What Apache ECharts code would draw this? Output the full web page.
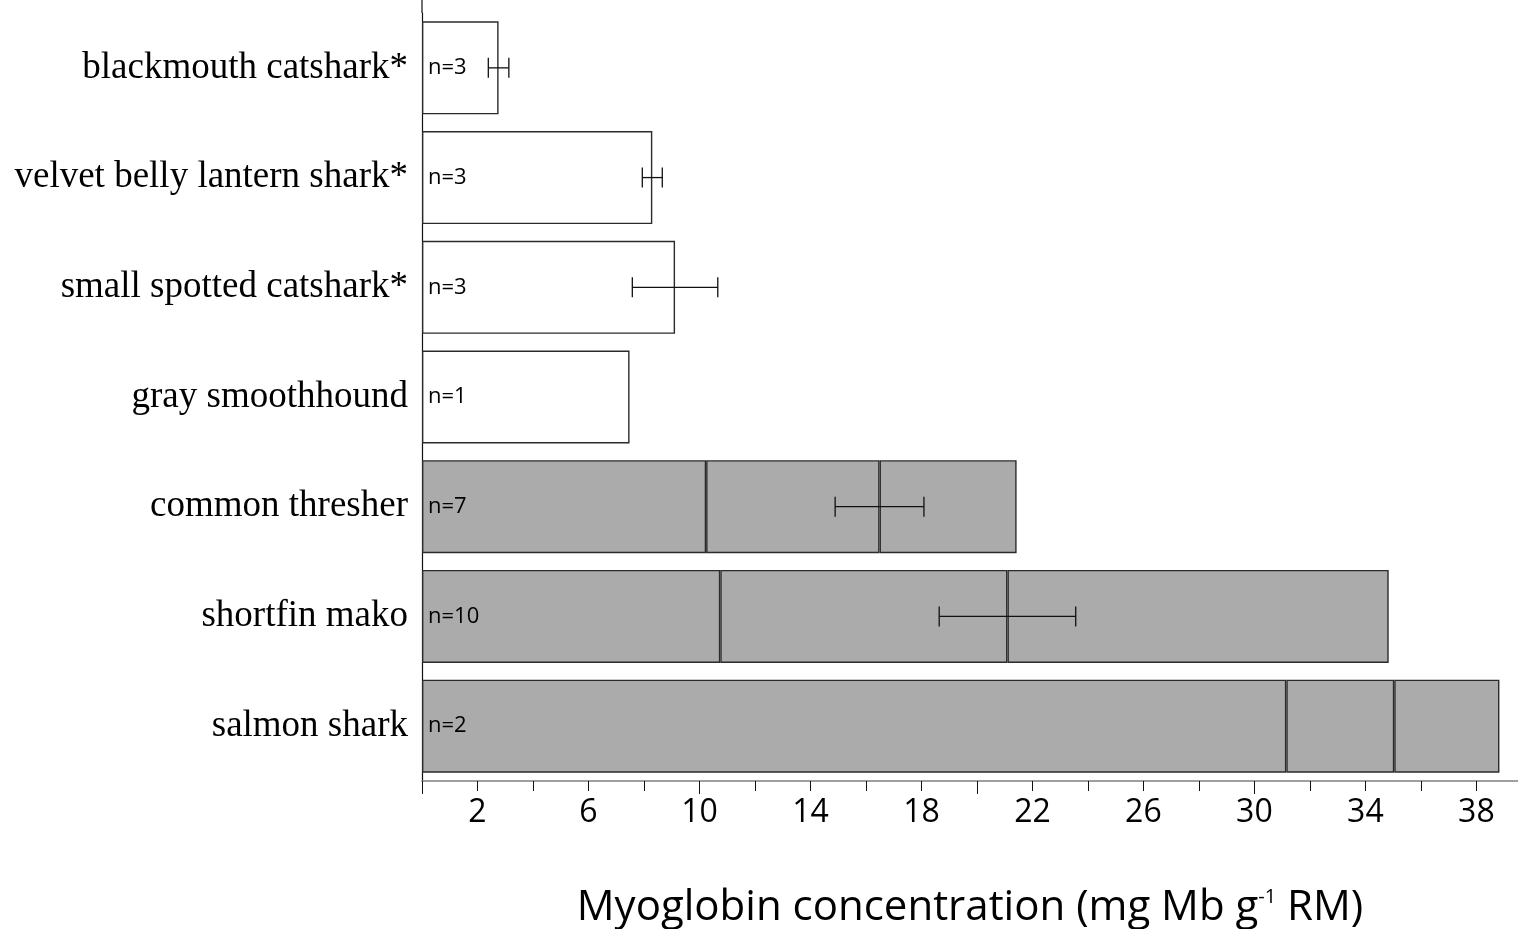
<!DOCTYPE html>
<html>
<head>
<meta charset="utf-8">
<title>Myoglobin concentration in sharks</title>
<script src="https://cdn.jsdelivr.net/npm/echarts@6/dist/echarts.min.js"></script>
<style>
  html, body { margin: 0; padding: 0; background: #ffffff; }
  #chart { width: 1518px; height: 929px; }
</style>
</head>
<body>
<div id="chart"></div>
<script>
// Species, listed top to bottom
const categories = [
  'blackmouth catshark*',
  'velvet belly lantern shark*',
  'small spotted catshark*',
  'gray smoothhound',
  'common thresher',
  'shortfin mako',
  'salmon shark'
];
// Mean myoglobin concentration (mg Mb g-1 RM)
const meanMb = [2.76, 8.30, 9.12, 7.48, 16.49, 21.10, 35.04];
// Range for the regionally endothermic species (null = not shown)
const minMb = [null, null, null, null, 10.24, 10.75, 31.15];
const maxMb = [null, null, null, null, 21.43, 34.84, 38.83];
// Standard error (null = no error bar)
const seMb = [0.37, 0.36, 1.54, null, 1.60, 2.46, null];
// Sample sizes
const sampleN = [3, 3, 3, 1, 7, 10, 2];

// Axis ticks and labels
const tickValues = [0, 2, 4, 6, 8, 10, 12, 14, 16, 18, 20, 22, 24, 26, 28, 30, 32, 34, 36, 38];
const longTickValues = [0, 10, 20, 30];
const tickLabels = [2, 6, 10, 14, 18, 22, 26, 30, 34, 38];

const GRID = { left: 422, right: 0, top: 13, bottom: 148 };
const X_MAX = 39.5;

const hasRange = minMb.map(v => v != null);

// Stacked segments: 0 -> min, min -> mean, mean -> max (or a single 0 -> mean bar)
const segBase = meanMb.map((m, i) => hasRange[i] ? minMb[i] : m);
const segLow = meanMb.map((m, i) => hasRange[i] ? +(m - minMb[i]).toFixed(2) : '-');
const segHigh = meanMb.map((m, i) => hasRange[i] ? +(maxMb[i] - m).toFixed(2) : '-');

// Error bars: [category index, mean - se, mean + se]
const errData = [];
meanMb.forEach((m, i) => {
  if (seMb[i] != null) errData.push([i, +(m - seMb[i]).toFixed(2), +(m + seMb[i]).toFixed(2)]);
});

const BORDER = '#2b2b2b';
const GRAY = '#ababab';
const fillFor = p => hasRange[p.dataIndex] ? GRAY : '#ffffff';

const barCommon = {
  type: 'bar',
  stack: 'mb',
  barWidth: 93,
  silent: true,
  itemStyle: { color: fillFor, borderColor: BORDER, borderWidth: 1.4 }
};

const chart = echarts.init(document.getElementById('chart'), null, { renderer: 'canvas' });

chart.setOption({
  animation: false,
  backgroundColor: '#ffffff',
  grid: Object.assign({ containLabel: false, outerBoundsMode: 'none' }, GRID),
  xAxis: [
    {
      type: 'value',
      position: 'bottom',
      min: 0,
      max: X_MAX,
      interval: 2,
      splitLine: { show: false },
      axisLine: { show: true, lineStyle: { color: '#808080', width: 1.6 } },
      axisTick: { show: true, length: 10, customValues: tickValues, lineStyle: { color: '#111', width: 1 } },
      axisLabel: {
        customValues: tickLabels,
        formatter: v => (v % 4 === 2 ? String(v) : ''),
        margin: 16,
        color: '#000',
        fontFamily: 'Open Sans',
        fontSize: 32
      },
      name: 'Myoglobin concentration (mg Mb g{sup|-1} RM)',
      nameLocation: 'middle',
      nameGap: 106,
      nameTextStyle: {
        color: '#000',
        fontFamily: 'Open Sans',
        fontSize: 42,
        rich: {
          sup: { fontFamily: 'Open Sans', fontSize: 20, color: '#000', verticalAlign: 'top', lineHeight: 26 }
        }
      }
    },
    {
      type: 'value',
      position: 'bottom',
      min: 0,
      max: X_MAX,
      interval: 10,
      splitLine: { show: false },
      axisLine: { show: false },
      axisTick: { show: true, length: 13, customValues: longTickValues, lineStyle: { color: '#111', width: 1 } },
      axisLabel: { show: false }
    }
  ],
  yAxis: {
    type: 'category',
    inverse: true,
    data: categories,
    axisLine: { show: true, lineStyle: { color: '#111', width: 1.2 } },
    axisTick: { show: false },
    splitLine: { show: false },
    axisLabel: {
      margin: 14,
      color: '#000',
      fontFamily: 'Liberation Serif',
      fontSize: 37
    }
  },
  graphic: [
    {
      // vertical axis line continues above the first band
      type: 'line',
      silent: true,
      shape: { x1: GRID.left, y1: 0, x2: GRID.left, y2: GRID.top },
      style: { stroke: '#111', lineWidth: 1.2 }
    }
  ],
  series: [
    Object.assign({}, barCommon, {
      name: 'base',
      data: segBase,
      label: {
        show: true,
        position: 'insideLeft',
        distance: 6,
        formatter: p => 'n=' + sampleN[p.dataIndex],
        color: '#000',
        fontFamily: 'Open Sans',
        fontSize: 22
      }
    }),
    Object.assign({}, barCommon, { name: 'to mean', data: segLow }),
    Object.assign({}, barCommon, { name: 'to max', data: segHigh }),
    {
      type: 'custom',
      name: 'SE',
      silent: true,
      z: 5,
      data: errData,
      encode: { y: 0, x: [1, 2] },
      renderItem: (params, api) => {
        const cat = api.value(0);
        const lo = api.coord([api.value(1), cat]);
        const hi = api.coord([api.value(2), cat]);
        const cap = 10;
        const st = { stroke: '#111', lineWidth: 1.3 };
        return {
          type: 'group',
          children: [
            { type: 'line', shape: { x1: lo[0], y1: lo[1], x2: hi[0], y2: hi[1] }, style: st },
            { type: 'line', shape: { x1: lo[0], y1: lo[1] - cap, x2: lo[0], y2: lo[1] + cap }, style: st },
            { type: 'line', shape: { x1: hi[0], y1: hi[1] - cap, x2: hi[0], y2: hi[1] + cap }, style: st }
          ]
        };
      }
    }
  ]
});
</script>
</body>
</html>
